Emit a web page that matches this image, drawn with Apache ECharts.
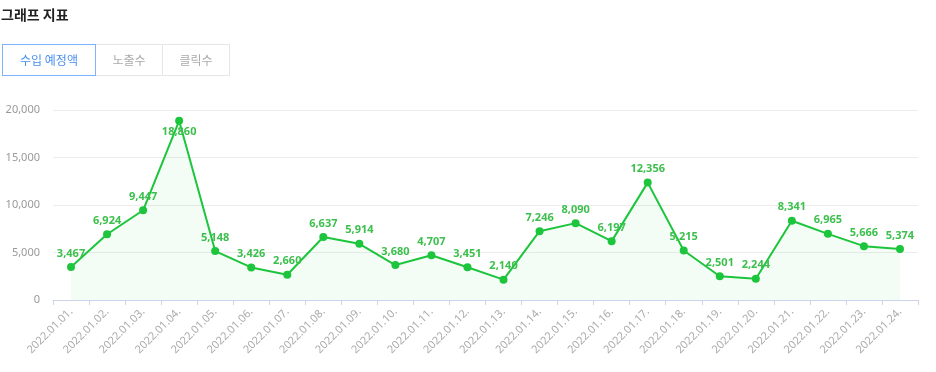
<!DOCTYPE html>
<html><head><meta charset="utf-8">
<script src="https://cdn.jsdelivr.net/npm/echarts@6/dist/echarts.min.js"></script>
<style>
html,body{margin:0;padding:0;background:#fff;width:936px;height:372px;overflow:hidden;font-family:"Noto Sans CJK KR","Noto Sans",sans-serif;}
#title{position:absolute;left:1px;top:4px;font-size:14px;font-weight:bold;color:#222;}
#tabs{position:absolute;left:2px;top:44px;display:flex;}
.tab{height:30px;line-height:30px;font-size:12px;color:#aaa;border:1px solid #e6e6e6;text-align:center;box-sizing:content-box;}
.tab.on{color:#4a90f0;border-color:#7ab3ff;}
#chart{position:absolute;left:0;top:0;width:936px;height:372px;}
</style></head><body>
<div id="chart"></div>
<div id="title">그래프 지표</div>
<div id="tabs"><div class="tab on" style="width:92px">수입 예정액</div><div class="tab" style="width:66px;border-left:none">노출수</div><div class="tab" style="width:66px;border-left:none">클릭수</div></div>
<script>
const categories = ["2022.01.01.","2022.01.02.","2022.01.03.","2022.01.04.","2022.01.05.","2022.01.06.","2022.01.07.","2022.01.08.","2022.01.09.","2022.01.10.","2022.01.11.","2022.01.12.","2022.01.13.","2022.01.14.","2022.01.15.","2022.01.16.","2022.01.17.","2022.01.18.","2022.01.19.","2022.01.20.","2022.01.21.","2022.01.22.","2022.01.23.","2022.01.24."];
const values = [3467,6924,9447,18860,5148,3426,2660,6637,5914,3680,4707,3451,2140,7246,8090,6197,12356,5215,2501,2244,8341,6965,5666,5374];
const chart = echarts.init(document.getElementById('chart'));
const seriesData = values.map((v,i)=> i===3 ? {value:v,label:{position:'bottom',distance:2}} : v);
chart.setOption({
  animation:false,
  grid:{left:53,right:18,top:110,bottom:72},
  xAxis:{type:'category',data:categories,boundaryGap:true,
    axisLine:{lineStyle:{color:'#ccd3ea'}},
    axisTick:{show:true,length:5,lineStyle:{color:'#ccd3ea'}},
    axisLabel:{rotate:45,color:'#aaa',fontSize:11,fontFamily:'Noto Sans',interval:0,margin:10}},
  yAxis:{type:'value',min:0,max:20000,interval:5000,
    axisLine:{show:false},axisTick:{show:false},
    splitLine:{lineStyle:{color:'#ececec'}},
    axisLabel:{color:'#999',fontSize:11,fontFamily:'Noto Sans',margin:13,
      formatter:v=>v.toLocaleString('en-US')}},
  series:[{type:'line',data:seriesData,symbol:'circle',symbolSize:8,
    itemStyle:{color:'#1cc53c'},
    lineStyle:{color:'#1cc53c',width:2},
    areaStyle:{color:'rgba(28,197,60,0.07)'},
    label:{show:true,position:'top',distance:4,color:'#3cbf4c',fontSize:11,fontWeight:'bold',fontFamily:'Noto Sans',
      formatter:p=>p.value.toLocaleString('en-US')}}]
});
</script>
</body></html>
